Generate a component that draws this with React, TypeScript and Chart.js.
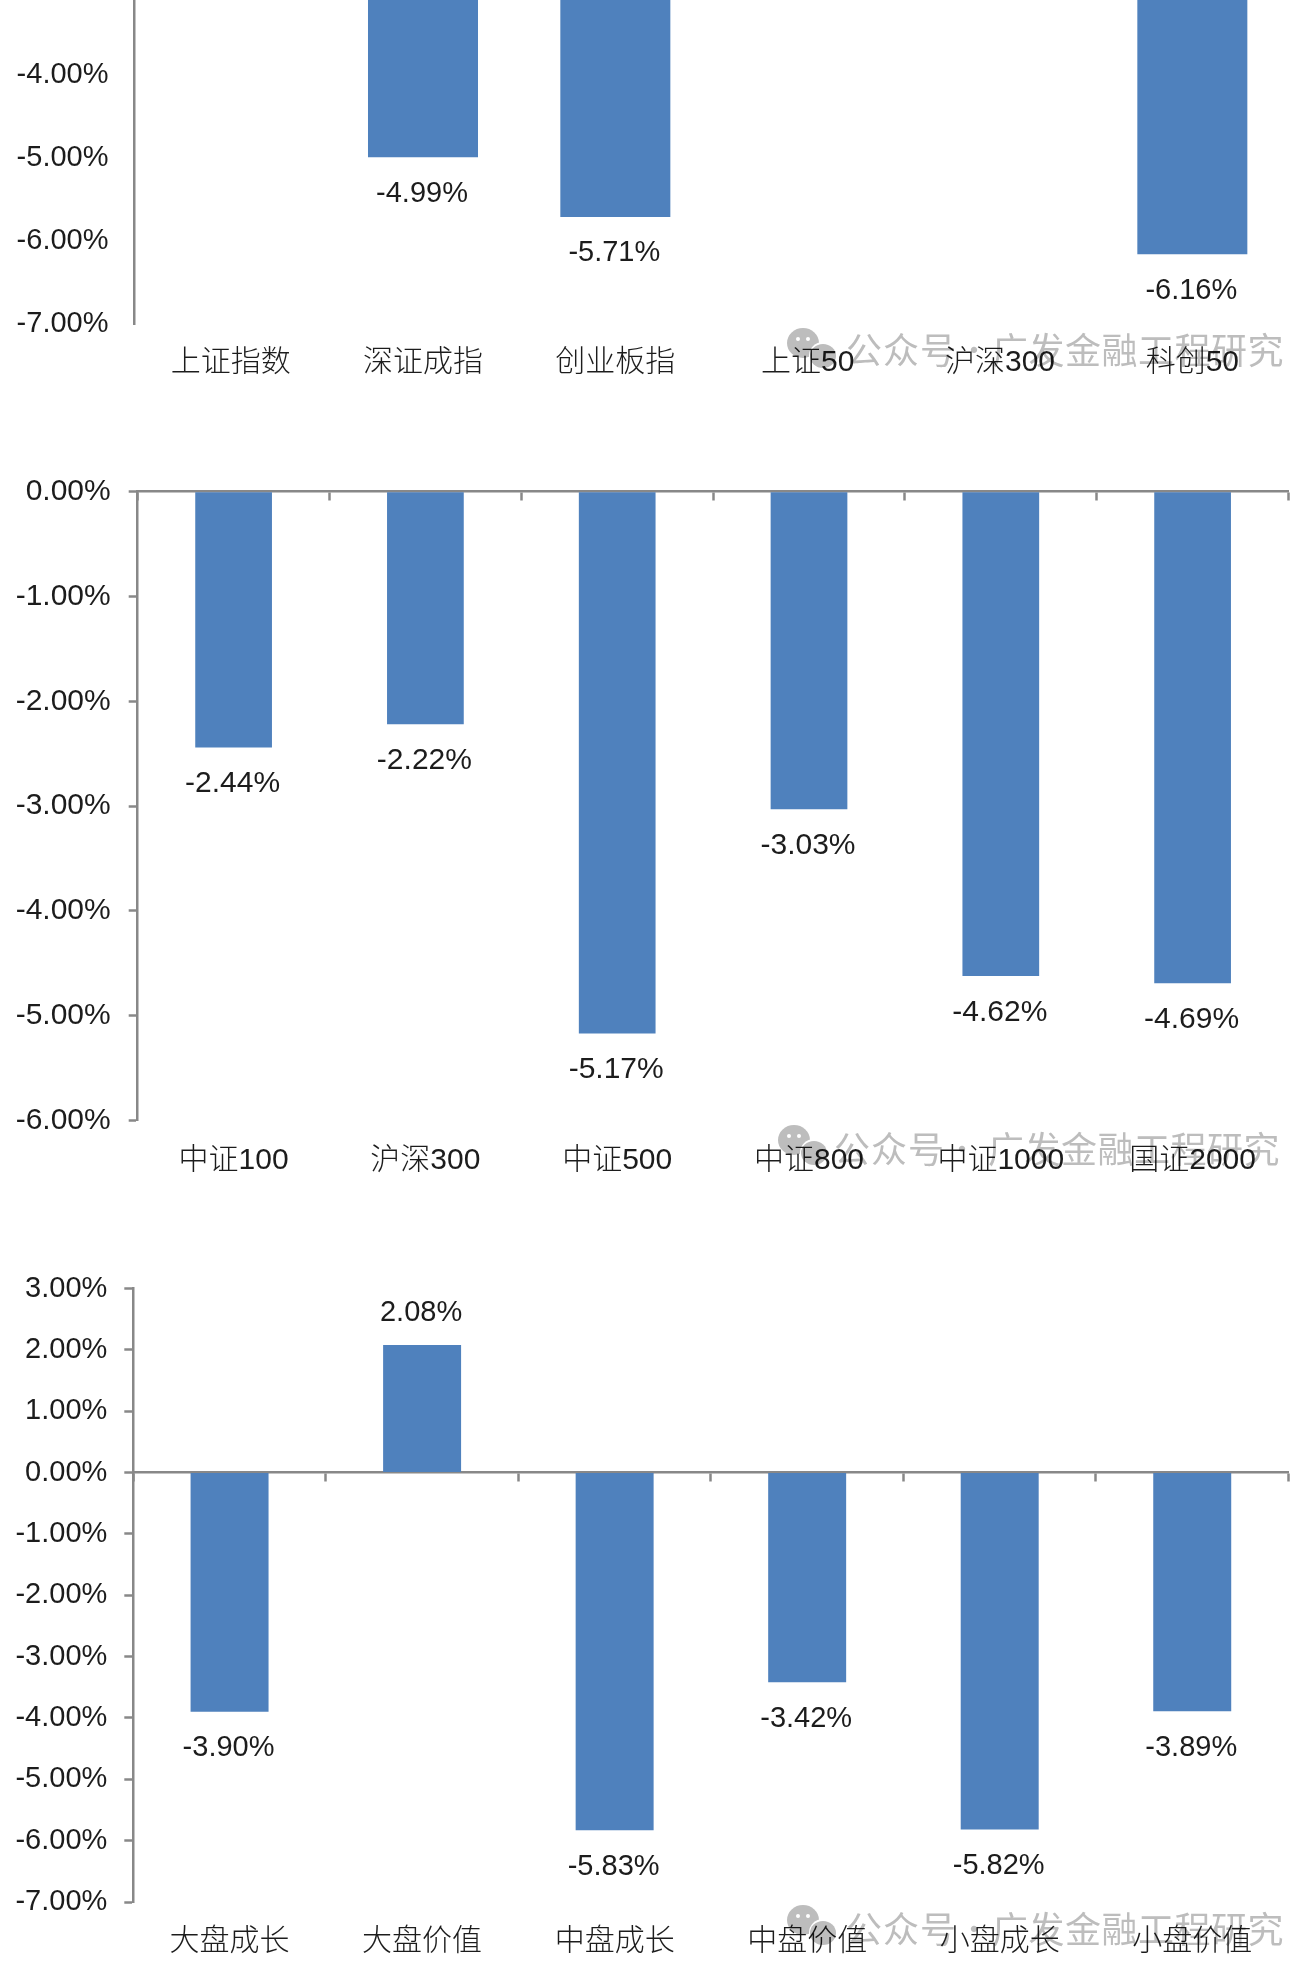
import React, { useEffect, useRef } from "react";
import { Chart, registerables } from "chart.js";

Chart.register(...registerables);

const indexCategories = ["上证指数", "深证成指", "创业板指", "上证50", "沪深300", "科创50"];
// 上证指数 and 上证50 are cropped out of the picture; their values are estimates.
const indexValues = [-2.4, -4.99, -5.71, -1.8, -2.22, -6.16];

const sizeCategories = ["中证100", "沪深300", "中证500", "中证800", "中证1000", "国证2000"];
const sizeValues = [-2.44, -2.22, -5.17, -3.03, -4.62, -4.69];

const styleCategories = ["大盘成长", "大盘价值", "中盘成长", "中盘价值", "小盘成长", "小盘价值"];
const styleValues = [-3.9, 2.08, -5.83, -3.42, -5.82, -3.89];

const BAR = "#4F81BD";
const AXIS = "#888888";
const TEXT = "#1c1c1c";
const LATIN = '"Liberation Sans", Arial';
const FONT = `${LATIN}, "Noto Sans CJK SC"`;
const WATERMARK_PREFIX = "公众号";
const WATERMARK_NAME = "广发金融工程研究";

const pct = (v: number) => `${v.toFixed(2)}%`;

const barLabels = {
  id: "barLabels",
  afterDatasetsDraw(chart: any, _a: any, opts: any) {
    const { ctx } = chart;
    const meta = chart.getDatasetMeta(0);
    const vals = chart.data.datasets[0].data as number[];
    ctx.save();
    ctx.font = `${opts.size}px ${LATIN}`;
    ctx.fillStyle = TEXT;
    ctx.textAlign = "center";
    ctx.textBaseline = "middle";
    meta.data.forEach((el: any, i: number) => {
      const v = vals[i];
      ctx.fillText(pct(v), el.x - 1, el.y + (v < 0 ? opts.below : -opts.above));
    });
    ctx.restore();
  },
};

type Spec = {
  labels: string[];
  values: number[];
  min: number;
  max: number;
  top: number;
  height: number;
  plotTop: number;
  plotBottom: number;
  left: number;
  barPct: number;
  yTick: number;
  yPad: number;
  fontSize: number;
  xPad: number;
};

function BarChart({ s }: { s: Spec }) {
  const ref = useRef<HTMLCanvasElement>(null);
  useEffect(() => {
    const chart = new Chart(ref.current as HTMLCanvasElement, {
      type: "bar",
      data: {
        labels: s.labels,
        datasets: [
          {
            data: s.values,
            backgroundColor: BAR,
            barPercentage: s.barPct,
            categoryPercentage: 1,
            xAxisID: "x",
            yAxisID: "y",
          },
        ],
      },
      options: {
        animation: false,
        responsive: false,
        devicePixelRatio: 1,
        layout: { padding: { top: s.plotTop - s.top, right: 13.5, bottom: 0, left: 0 } },
        plugins: {
          legend: { display: false },
          tooltip: { enabled: false },
          barLabels: { size: s.fontSize, below: 36.5, above: 32 },
        } as any,
        scales: {
          x: {
            type: "category",
            position: "bottom",
            border: { display: false },
            grid: { display: false, drawTicks: false },
            ticks: {
              autoSkip: false,
              maxRotation: 0,
              padding: s.xPad,
              color: TEXT,
              font: { family: FONT, size: 30, weight: "300" },
            },
            afterFit: (a: any) => {
              a.height = s.top + s.height - s.plotBottom;
            },
          },
          zero: {
            axis: "x",
            type: "category",
            position: { y: 0 },
            labels: s.labels,
            border: { color: AXIS, width: 2.5 },
            grid: {
              drawOnChartArea: false,
              drawTicks: true,
              offset: true,
              tickLength: 8,
              tickWidth: 2.5,
              tickColor: AXIS,
              color: AXIS,
            },
            ticks: { display: false },
            afterFit: (a: any) => {
              a.height = 0;
            },
          },
          y: {
            type: "linear",
            min: s.min,
            max: s.max,
            border: { color: AXIS, width: 2.5 },
            grid: {
              drawOnChartArea: false,
              drawTicks: s.yTick > 0,
              tickLength: s.yTick,
              tickWidth: 2.5,
              tickColor: AXIS,
              color: AXIS,
            },
            ticks: {
              stepSize: 1,
              padding: s.yPad,
              color: TEXT,
              font: { family: LATIN, size: s.fontSize },
              callback: (v: any) => pct(Number(v)),
            },
            afterFit: (a: any) => {
              a.width = s.left;
            },
          },
        },
      } as any,
      plugins: [barLabels as any],
    });
    return () => chart.destroy();
  }, []);
  return (
    <canvas
      ref={ref}
      width={1302}
      height={s.height}
      style={{ position: "absolute", left: 0, top: s.top, width: 1302, height: s.height, filter: "blur(0.5px)" }}
    />
  );
}

function Watermark({ iconX, iconY, textX, nameX, textY }: { iconX: number; iconY: number; textX: number; nameX: number; textY: number }) {
  const span: React.CSSProperties = {
    position: "absolute",
    top: textY - 26,
    lineHeight: "52px",
    fontSize: 36,
    fontFamily: '"Noto Sans CJK SC"',
    fontWeight: 400,
    color: "#bdbdbd",
    whiteSpace: "pre",
    mixBlendMode: "multiply",
  };
  return (
    <>
      <svg
        width={60}
        height={50}
        style={{ position: "absolute", left: iconX - 18, top: iconY - 16, mixBlendMode: "multiply" }}
      >
        <ellipse cx={18} cy={16} rx={16} ry={15} fill="#bdbdbd" />
        <circle cx={13} cy={12} r={2} fill="#fff" />
        <circle cx={23} cy={12} r={2} fill="#fff" />
        <circle cx={38} cy={29} r={14} fill="#fff" />
        <ellipse cx={38} cy={29} rx={13} ry={12} fill="#bdbdbd" />
      </svg>
      <span style={{ ...span, left: textX, letterSpacing: 1 }}>{WATERMARK_PREFIX}</span>
      <span style={{ ...span, left: textX + 113, fontSize: 30 }}>·</span>
      <span style={{ ...span, left: nameX, letterSpacing: 0.5 }}>{WATERMARK_NAME}</span>
    </>
  );
}

const specs: Spec[] = [
  { labels: indexCategories, values: indexValues, min: -7, max: 0, top: -320, height: 720, plotTop: -257, plotBottom: 324, left: 134.5, barPct: 0.572, yTick: 0, yPad: 26, fontSize: 29, xPad: 21 },
  { labels: sizeCategories, values: sizeValues, min: -6, max: 0, top: 440, height: 760, plotTop: 491.7, plotBottom: 1120.5, left: 137.7, barPct: 0.4, yTick: 9, yPad: 18, fontSize: 30, xPad: 22 },
  { labels: styleCategories, values: styleValues, min: -7, max: 3, top: 1240, height: 734, plotTop: 1288.5, plotBottom: 1902, left: 133.3, barPct: 0.405, yTick: 9, yPad: 17, fontSize: 29, xPad: 22 },
];

export default function App() {
  return (
    <div style={{ position: "absolute", left: 0, top: 0, width: 1302, height: 1974, overflow: "hidden", background: "#fff" }}>
      {specs.map((s, i) => (
        <BarChart key={i} s={s} />
      ))}
      <Watermark iconX={803} iconY={343} textX={846} nameX={992} textY={348} />
      <Watermark iconX={794} iconY={1140} textX={834} nameX={988} textY={1147} />
      <Watermark iconX={803} iconY={1920} textX={846} nameX={992} textY={1927} />
    </div>
  );
}
